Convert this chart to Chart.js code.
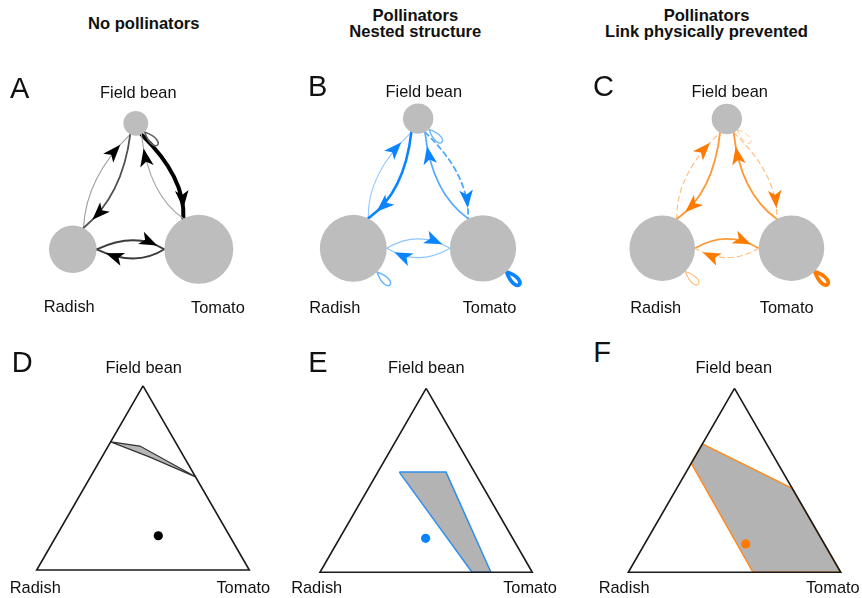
<!DOCTYPE html>
<html><head><meta charset="utf-8">
<script src="https://cdn.jsdelivr.net/npm/chart.js@4.4.1/dist/chart.umd.min.js"></script>
<style>
html,body{margin:0;padding:0;background:#fff;}
#stage{position:relative;width:862px;height:598px;overflow:hidden;background:#fff;font-family:"Liberation Sans",Arial,Helvetica,sans-serif;color:#111;}
#stage canvas{position:absolute;}
.t{position:absolute;white-space:nowrap;line-height:1;z-index:5;}
</style></head><body><div id="stage"></div>
<script>
// ================= DATA =================
const species = ["Field bean", "Radish", "Tomato"];          // node order: 0 FB, 1 R, 2 T
const panelTitles = [["No pollinators"], ["Pollinators", "Nested structure"], ["Pollinators", "Link physically prevented"]];
const panelLetters = ["A", "B", "C", "D", "E", "F"];

// relative node sizes (networks A, B, C)
const nodeSizeA = [0.36, 0.69, 1.00];
const nodeSizeB = [0.44, 0.97, 0.96];
const nodeSizeC = [0.44, 0.95, 0.95];

// interaction links: source, target, strength (0-1), sign (+1 solid, -1 dashed)
const fromA = [1, 0, 0, 2, 1, 2, 0];
const toA = [0, 1, 2, 0, 2, 1, 0];
const strengthA = [0.10, 0.30, 1.00, 0.08, 0.35, 0.35, 0.25];
const signA = [1, 1, 1, 1, 1, 1, 1];

const fromB = [1, 0, 0, 2, 1, 2, 1, 2, 0];
const toB = [0, 1, 2, 0, 2, 1, 1, 2, 0];
const strengthB = [0.10, 0.55, 0.30, 0.28, 0.12, 0.12, 0.22, 0.90, 0.20];
const signB = [1, 1, -1, 1, 1, 1, 1, 1, 1];

const fromC = [1, 0, 0, 2, 1, 2, 1, 2, 0];
const toC = [0, 1, 2, 0, 2, 1, 1, 2, 0];
const strengthC = [0.10, 0.32, 0.10, 0.32, 0.32, 0.10, 0.10, 0.90, 0.05];
const signC = [-1, 1, -1, 1, 1, -1, 1, 1, -1];

// ternary feasibility regions: [field bean, radish, tomato] fractions
const regionD = [[0.696, 0.304, 0.000], [0.673, 0.178, 0.149], [0.506, 0.000, 0.494], [0.613, 0.161, 0.226]];
const pointD = [0.186, 0.335, 0.479];
const regionE = [[0.545, 0.354, 0.101], [0.545, 0.134, 0.321], [0.000, 0.195, 0.805], [0.000, 0.284, 0.716]];
const pointE = [0.185, 0.410, 0.405];
const regionF = [[0.698, 0.302, 0.000], [0.457, 0.000, 0.543], [0.000, 0.000, 1.000], [0.000, 0.413, 0.587], [0.593, 0.407, 0.000]];
const pointF = [0.154, 0.370, 0.476];

// ================= LAYOUT / STYLE =================
const layoutX = [0.5, 0, 1];
const layoutY = [1, 0, 0];
const MAX_R = 34.5;
const stage = document.getElementById('stage');

function addText(txt, x, baseline, size, weight, align) {
  const d = document.createElement('div');
  d.className = 't';
  d.textContent = txt;
  d.style.fontSize = size + 'px';
  d.style.fontWeight = weight;
  d.style.top = (baseline - 0.8465 * size) + 'px';
  d.style.left = x + 'px';
  if (align === 'center') d.style.transform = 'translateX(-50%)';
  stage.appendChild(d);
}
function addCanvas(left, top, w, h) {
  const c = document.createElement('canvas');
  c.width = w; c.height = h;
  c.style.left = left + 'px'; c.style.top = top + 'px';
  c.style.width = w + 'px'; c.style.height = h + 'px';
  stage.appendChild(c);
  return c;
}
function hex2rgb(h) { return [parseInt(h.substr(1, 2), 16), parseInt(h.substr(3, 2), 16), parseInt(h.substr(5, 2), 16)]; }
function mix(a, b, m) {
  const A = hex2rgb(a), B = hex2rgb(b);
  return 'rgb(' + A.map((v, i) => Math.round(v * (1 - m) + B[i] * m)).join(',') + ')';
}
const baseOpts = (xmin, xmax, ymin, ymax) => ({
  responsive: false, animation: false, devicePixelRatio: 1, events: [],
  layout: { padding: 0, autoPadding: false },
  plugins: { legend: { display: false }, tooltip: { enabled: false }, title: { display: false } },
  scales: {
    x: { type: 'linear', min: xmin, max: xmax, display: false },
    y: { type: 'linear', min: ymin, max: ymax, display: false }
  }
});

// ---------- network panels ----------
const netPanels = [
  { sizes: nodeSizeA, from: fromA, to: toA, str: strengthA, sign: signA, ox: 72.8, oy: 249.3, unit: 126,
    full: '#000000', light: '#c6c6c6', arrow: '#000000' },
  { sizes: nodeSizeB, from: fromB, to: toB, str: strengthB, sign: signB, ox: 353.3, oy: 248.3, unit: 129.7,
    full: '#0a84ff', light: '#b5dbff', arrow: '#0a84ff' },
  { sizes: nodeSizeC, from: fromC, to: toC, str: strengthC, sign: signC, ox: 662.2, oy: 248.3, unit: 129.3,
    full: '#ff7b00', light: '#ffcc99', arrow: '#ff7b00' }
];

function edgePlugin(p) {
  return {
    id: 'edges',
    beforeDatasetsDraw(chart) {
      const ctx = chart.ctx, xs = chart.scales.x, ys = chart.scales.y;
      const P = layoutX.map((v, i) => ({ x: xs.getPixelForValue(v), y: ys.getPixelForValue(layoutY[i]) }));
      const R = p.sizes.map(s => s * MAX_R);
      ctx.save();
      ctx.lineCap = 'round';
      for (let i = 0; i < p.from.length; i++) {
        const a = p.from[i], b = p.to[i], s = p.str[i];
        const col = mix(p.light, p.full, Math.min(1, 2 * s));
        ctx.strokeStyle = col;
        ctx.lineWidth = 0.8 + 3.2 * s;
        ctx.setLineDash(p.sign[i] < 0 ? [5, 4] : []);
        if (a === b) {
          const th = Math.PI / 4, L = 27, sg = 0.45;
          const px = P[a].x + R[a] * Math.cos(th), py = P[a].y + R[a] * Math.sin(th);
          ctx.beginPath();
          ctx.moveTo(px, py);
          ctx.bezierCurveTo(px + L * Math.cos(th - sg), py + L * Math.sin(th - sg),
                            px + L * Math.cos(th + sg), py + L * Math.sin(th + sg), px, py);
          ctx.stroke();
          continue;
        }
        const dx = P[b].x - P[a].x, dy = P[b].y - P[a].y, D = Math.hypot(dx, dy);
        const ux = dx / D, uy = dy / D;
        const sx = P[a].x + ux * R[a], sy = P[a].y + uy * R[a];
        const ex = P[b].x - ux * R[b], ey = P[b].y - uy * R[b];
        const k = 0.145;
        const cx = (P[a].x + P[b].x) / 2 + k * dy, cy = (P[a].y + P[b].y) / 2 - k * dx;
        ctx.beginPath();
        ctx.moveTo(sx, sy);
        ctx.quadraticCurveTo(cx, cy, ex, ey);
        ctx.stroke();
        // arrow head
        const t = 0.88;
        const tx = (1 - t) * (1 - t) * sx + 2 * (1 - t) * t * cx + t * t * ex;
        const ty = (1 - t) * (1 - t) * sy + 2 * (1 - t) * t * cy + t * t * ey;
        let vx = 2 * (1 - t) * (cx - sx) + 2 * t * (ex - cx), vy = 2 * (1 - t) * (cy - sy) + 2 * t * (ey - cy);
        const vl = Math.hypot(vx, vy); vx /= vl; vy /= vl;
        const len = 18, hw = 6.8, notch = 4.5;
        const bx = tx - vx * len, by = ty - vy * len;
        ctx.setLineDash([]);
        ctx.fillStyle = p.arrow;
        ctx.beginPath();
        ctx.moveTo(tx, ty);
        ctx.lineTo(bx - vy * hw, by + vx * hw);
        ctx.lineTo(tx - vx * (len - notch), ty - vy * (len - notch));
        ctx.lineTo(bx + vy * hw, by - vx * hw);
        ctx.closePath();
        ctx.fill();
      }
      ctx.restore();
    }
  };
}

netPanels.forEach(p => {
  const left = Math.round(p.ox - 0.5 * p.unit), top = Math.round(p.oy - 1.25 * p.unit);
  const w = Math.round(2 * p.unit), h = Math.round(1.72 * p.unit);
  const xmin = (left - p.ox) / p.unit, xmax = xmin + w / p.unit;
  const ymax = (p.oy - top) / p.unit, ymin = ymax - h / p.unit;
  const cv = addCanvas(left, top, w, h);
  new Chart(cv, {
    type: 'scatter',
    data: { datasets: [{
      data: layoutX.map((x, i) => ({ x: x, y: layoutY[i] })),
      pointRadius: p.sizes.map(s => s * MAX_R),
      backgroundColor: '#bdbdbd', borderWidth: 0, clip: false
    }] },
    options: baseOpts(xmin, xmax, ymin, ymax),
    plugins: [edgePlugin(p)]
  });
});

// ---------- ternary panels ----------
const SQ = Math.sqrt(3) / 2;
const tern = c => ({ x: c[2] + c[0] / 2, y: c[0] * SQ });
const ternPanels = [
  { region: regionD, point: pointD, bl: 36.7, by: 570, side: 212.6, fill: '#b7b7b7', edge: '#333333', edgeW: 1.2, dot: '#000000' },
  { region: regionE, point: pointE, bl: 320, by: 572.3, side: 212.3, fill: '#b3b3b3', edge: '#2f8fea', edgeW: 1.5, dot: '#0a84ff' },
  { region: regionF, point: pointF, bl: 628.3, by: 572.3, side: 212.4, fill: '#b3b3b3', edge: '#ff8a24', edgeW: 1.5, dot: '#ff7b00' }
];
const corners = [[1, 0, 0], [0, 1, 0], [0, 0, 1], [1, 0, 0]];
ternPanels.forEach(p => {
  const left = Math.round(p.bl - 0.06 * p.side), top = Math.round(p.by - (SQ + 0.06) * p.side);
  const w = Math.round(1.12 * p.side), h = Math.round((SQ + 0.12) * p.side);
  const xmin = (left - p.bl) / p.side, xmax = xmin + w / p.side;
  const ymax = (p.by - top) / p.side, ymin = ymax - h / p.side;
  const cv = addCanvas(left, top, w, h);
  const poly = p.region.map(tern); poly.push(tern(p.region[0]));
  new Chart(cv, {
    type: 'scatter',
    data: { datasets: [
      { type: 'line', data: poly, fill: 'shape', backgroundColor: p.fill, borderColor: p.edge, borderWidth: p.edgeW,
        pointRadius: 0, tension: 0, borderJoinStyle: 'miter', clip: false, order: 3 },
      { type: 'line', data: corners.map(tern), fill: false, borderColor: '#1a1a1a', borderWidth: 1.6,
        pointRadius: 0, tension: 0, borderJoinStyle: 'miter', clip: false, order: 2 },
      { data: [tern(p.point)], pointRadius: 4.6, backgroundColor: p.dot, borderWidth: 0, clip: false, order: 1 }
    ] },
    options: baseOpts(xmin, xmax, ymin, ymax)
  });
});

// ---------- texts ----------
addText(panelTitles[0][0], 143.7, 30.3, 16.6, 'bold', 'center');
addText(panelTitles[1][0], 415.3, 21.7, 16.6, 'bold', 'center');
addText(panelTitles[1][1], 415.3, 37.9, 16.6, 'bold', 'center');
addText(panelTitles[2][0], 706.5, 21.7, 16.6, 'bold', 'center');
addText(panelTitles[2][1], 706.5, 37.9, 16.6, 'bold', 'center');

const letterPos = [[10, 98.3], [308, 96.7], [593, 96.7], [11.7, 372.3], [308.3, 372.3], [593.3, 362.8]];
panelLetters.forEach((L, i) => addText(L, letterPos[i][0], letterPos[i][1], 29, 'normal', 'left'));

const labelPos = [
  [[138.3, 98.3], [69.2, 312], [217.9, 312.5]],
  [[423.8, 96.7], [334.8, 313], [489.5, 313]],
  [[729.7, 96.7], [655.7, 313], [786.7, 313]],
  [[143.7, 373.3], [35.3, 593.3], [243.3, 593.3]],
  [[426.3, 373.3], [316.7, 593.3], [530, 593.3]],
  [[733.8, 373.3], [624.2, 593.3], [832.8, 593.3]]
];
labelPos.forEach(row => row.forEach((pos, j) => addText(species[j], pos[0], pos[1], 16.4, 'normal', 'center')));
</script></body></html>
